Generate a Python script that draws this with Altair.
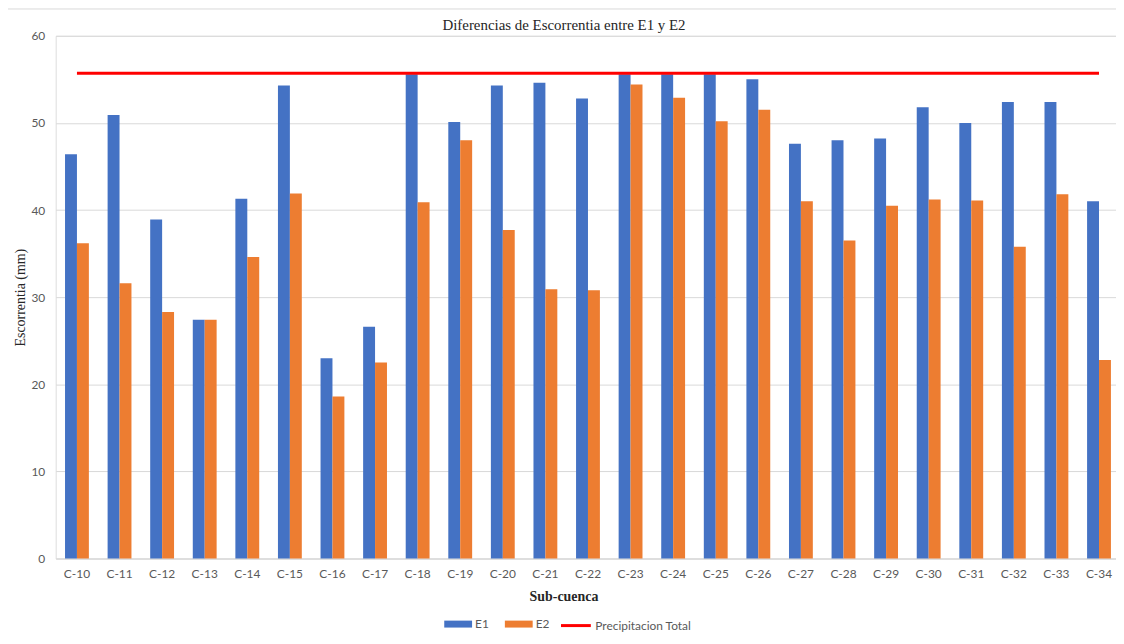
import altair as alt
import pandas as pd

subcuencas = ["C-10", "C-11", "C-12", "C-13", "C-14", "C-15", "C-16", "C-17", "C-18",
              "C-19", "C-20", "C-21", "C-22", "C-23", "C-24", "C-25", "C-26", "C-27",
              "C-28", "C-29", "C-30", "C-31", "C-32", "C-33", "C-34"]
e1 = [46.4, 50.9, 38.9, 27.4, 41.3, 54.3, 23.0, 26.6, 55.6, 50.1, 54.3, 54.6, 52.8,
      55.6, 55.6, 55.6, 55.0, 47.6, 48.0, 48.2, 51.8, 50.0, 52.4, 52.4, 41.0]
e2 = [36.2, 31.6, 28.3, 27.4, 34.6, 41.9, 18.6, 22.5, 40.9, 48.0, 37.7, 30.9, 30.8,
      54.4, 52.9, 50.2, 51.5, 41.0, 36.5, 40.5, 41.2, 41.1, 35.8, 41.8, 22.8]
precipitacion_total = 55.7
series = ["E1", "E2"]
series_colors = ["#4472C4", "#ED7D31"]
y_ticks = [0, 10, 20, 30, 40, 50, 60]

bars_df = pd.DataFrame({
    "Sub-cuenca": subcuencas * 2,
    "Serie": ["E1"] * len(subcuencas) + ["E2"] * len(subcuencas),
    "Escorrentia": e1 + e2,
})
line_df = pd.DataFrame({
    "Sub-cuenca": subcuencas,
    "Linea": ["Precipitacion Total"] * len(subcuencas),
    "Valor": [precipitacion_total] * len(subcuencas),
})

SANS = "Lato"
SERIF = "Liberation Serif"
GRAY = "#595959"
GRID = "#D9D9D9"

x_scale = alt.Scale(domain=subcuencas, paddingInner=0.44, paddingOuter=0.169, align=0.648)
x_axis = alt.Axis(labelAngle=0, labelFont=SANS, labelFontSize=12, labelColor=GRAY,
                  labelPadding=10, ticks=False, domainColor=GRID, domainWidth=1,
                  titleFont=SERIF, titleFontSize=14, titleFontWeight="bold",
                  titleColor="#262626", titleX=511, titleY=42,
                  titleBaseline="alphabetic", titleAnchor="middle", titleAlign="center")
y_scale = alt.Scale(domain=[0, 60], nice=False)
y_axis = alt.Axis(values=y_ticks, labelFont=SANS, labelFontSize=12, labelColor=GRAY,
                  labelPadding=11, ticks=False, domain=False, grid=True,
                  gridColor=GRID, gridWidth=1,
                  titleFont=SERIF, titleFontSize=14, titleFontWeight="normal",
                  titleColor="#262626", titleX=-35, titleY=263, titleAngle=270,
                  titleBaseline="middle", titleAlign="center")

bars = alt.Chart(bars_df).mark_bar().encode(
    x=alt.X("Sub-cuenca:N", scale=x_scale, sort=subcuencas, axis=x_axis, title="Sub-cuenca"),
    xOffset=alt.XOffset("Serie:N", sort=series),
    y=alt.Y("Escorrentia:Q", scale=y_scale, axis=y_axis, title="Escorrentia (mm)"),
    color=alt.Color("Serie:N",
                    scale=alt.Scale(domain=series, range=series_colors),
                    legend=alt.Legend(orient="none", legendX=391, legendY=578,
                                      direction="horizontal", title=None, padding=0,
                                      symbolType="M-1,-0.25H1V0.25H-1Z", symbolSize=784,
                                      symbolStrokeWidth=0, labelFont=SANS, labelFontSize=12,
                                      labelColor=GRAY, labelOffset=3, columnPadding=16)),
)

line = alt.Chart(line_df).mark_line(strokeWidth=3).encode(
    x=alt.X("Sub-cuenca:N", sort=subcuencas, title="Sub-cuenca"),
    y=alt.Y("Valor:Q", title="Escorrentia (mm)"),
    color=alt.Color("Linea:N",
                    scale=alt.Scale(domain=["Precipitacion Total"], range=["#FF0000"]),
                    legend=alt.Legend(orient="none", legendX=507, legendY=577,
                                      direction="horizontal", title=None, padding=0,
                                      symbolType="stroke", symbolSize=900,
                                      symbolStrokeWidth=3, labelFont=SANS, labelFontSize=12,
                                      labelColor=GRAY, labelOffset=3)),
)

frame = alt.Chart(alt.Data(values=[{"f": 1}])).mark_rect(
    fillOpacity=0, stroke=GRID, strokeWidth=1
).encode(
    x=alt.value(-50), x2=alt.value(1100), y=alt.value(-27), y2=alt.value(640)
)

chart = alt.layer(frame, bars, line).resolve_scale(color="independent").properties(
    width=1067,
    height=526,
    title=alt.TitleParams("Diferencias de Escorrentia entre E1 y E2", font=SERIF,
                          fontSize=15, fontWeight="normal", color="#262626",
                          anchor="middle", dx=-22, offset=-37, baseline="alphabetic"),
    autosize=alt.AutoSizeParams(type="none"),
    padding={"left": 48, "top": 26, "right": 0, "bottom": 76},
).configure_view(stroke=None).configure(background="white")

chart.save("out.html", embed_options={"renderer": "svg", "actions": False})
